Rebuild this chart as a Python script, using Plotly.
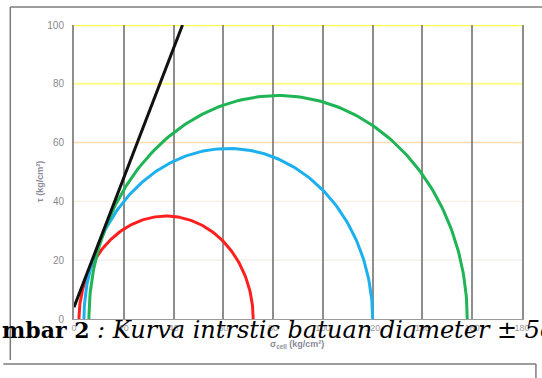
import numpy as np
import plotly.graph_objects as go

# Triaxial test results (kg/cm^2)
sigma3 = [2, 4, 6]          # confining stress
sigma1 = [72, 120, 158]     # major principal stress at failure
circle_colors = ["#ff1f1f", "#1db0ee", "#1fb455"]

# Mohr-Coulomb envelope (sigma, tau)
envelope_sigma = [0, 43.6]
envelope_tau = [4, 100]

x_ticks = [0, 20, 40, 60, 80, 100, 120, 140, 160, 180]
y_ticks = [0, 20, 40, 60, 80, 100]
hgrid_colors = {20: "#f3f1ea", 40: "#fcefe2", 60: "#ffd9b0", 80: "#ffff8a", 100: "#ffff4d"}

fig = go.Figure()

theta = np.linspace(0, np.pi, 181)
for s3, s1, col in zip(sigma3, sigma1, circle_colors):
    c = (s1 + s3) / 2
    r = (s1 - s3) / 2
    fig.add_trace(go.Scatter(x=c + r * np.cos(theta), y=r * np.sin(theta),
                             mode="lines", line=dict(color=col, width=3),
                             hoverinfo="skip", showlegend=False))

fig.add_trace(go.Scatter(x=envelope_sigma, y=envelope_tau, mode="lines",
                         line=dict(color="#111111", width=3),
                         hoverinfo="skip", showlegend=False))

# horizontal gridlines in their individual colours
for yv, col in hgrid_colors.items():
    fig.add_shape(type="line", xref="paper", yref="y", x0=0, x1=1, y0=yv, y1=yv,
                  line=dict(color=col, width=2.5 if yv == 100 else (2 if yv == 80 else 1.5)),
                  layer="below")

# page frame around the figure
W, H = 542, 378
L, R, T, B = 74, 524, 25, 319


def px(x):
    return (x - L) / (R - L)


def py(y):
    return (B - y) / (B - T)


frame = dict(color="#7d7d7d", width=1.5)
fig.add_shape(type="line", xref="paper", yref="paper", x0=px(10), x1=px(560), y0=py(7), y1=py(7), line=frame)
fig.add_shape(type="line", xref="paper", yref="paper", x0=px(10), x1=px(10), y0=py(7), y1=py(360), line=frame)
fig.add_shape(type="line", xref="paper", yref="paper", x0=px(3), x1=px(538), y0=py(364), y1=py(364), line=frame)
fig.add_shape(type="line", xref="paper", yref="paper", x0=px(538), x1=px(538), y0=py(364), y1=py(400), line=frame)

# axis titles
fig.add_annotation(xref="paper", yref="paper", x=px(298), y=py(352), showarrow=False,
                   text="<b>σ<sub>cell</sub> (kg/cm²)</b>",
                   font=dict(family="Liberation Sans", size=9, color="#8a8a9a"))
fig.add_annotation(xref="paper", yref="paper", x=px(33), y=py(181), showarrow=False,
                   text="<b>τ (kg/cm²)</b>", textangle=-90,
                   font=dict(family="Liberation Sans", size=9, color="#8a8a9a"))

# caption overlaid on the lower part of the figure
fig.add_annotation(xref="paper", yref="paper", x=px(0), y=py(330), xanchor="left", yanchor="middle",
                   showarrow=False,
                   text=("<b>mbar 2</b>"
                         "<span style='font-size:24px'><i> : Kurva intrstic batuan diameter ± 5c</i></span>"),
                   font=dict(family="DejaVu Serif", size=22, color="#000000"))

fig.update_xaxes(range=[0, 180], tickvals=x_ticks, showgrid=True, gridcolor="#8e8e8e",
                 gridwidth=2, zeroline=False, showline=True, linecolor="#9a9a9a", linewidth=1,
                 ticks="", tickfont=dict(family="Liberation Sans", size=9, color="#9a9a9a"))
fig.update_yaxes(range=[0, 100], tickvals=y_ticks, showgrid=False, zeroline=False,
                 showline=True, mirror=True, linecolor="#8e8e8e", linewidth=2,
                 ticks="", ticklabelstandoff=6,
                 tickfont=dict(family="Liberation Sans", size=10, color="#8a8a8a"))

fig.update_layout(width=W, height=H, margin=dict(l=L, r=W - R, t=T, b=H - B),
                  paper_bgcolor="white", plot_bgcolor="white")

fig.write_html("out.html")
